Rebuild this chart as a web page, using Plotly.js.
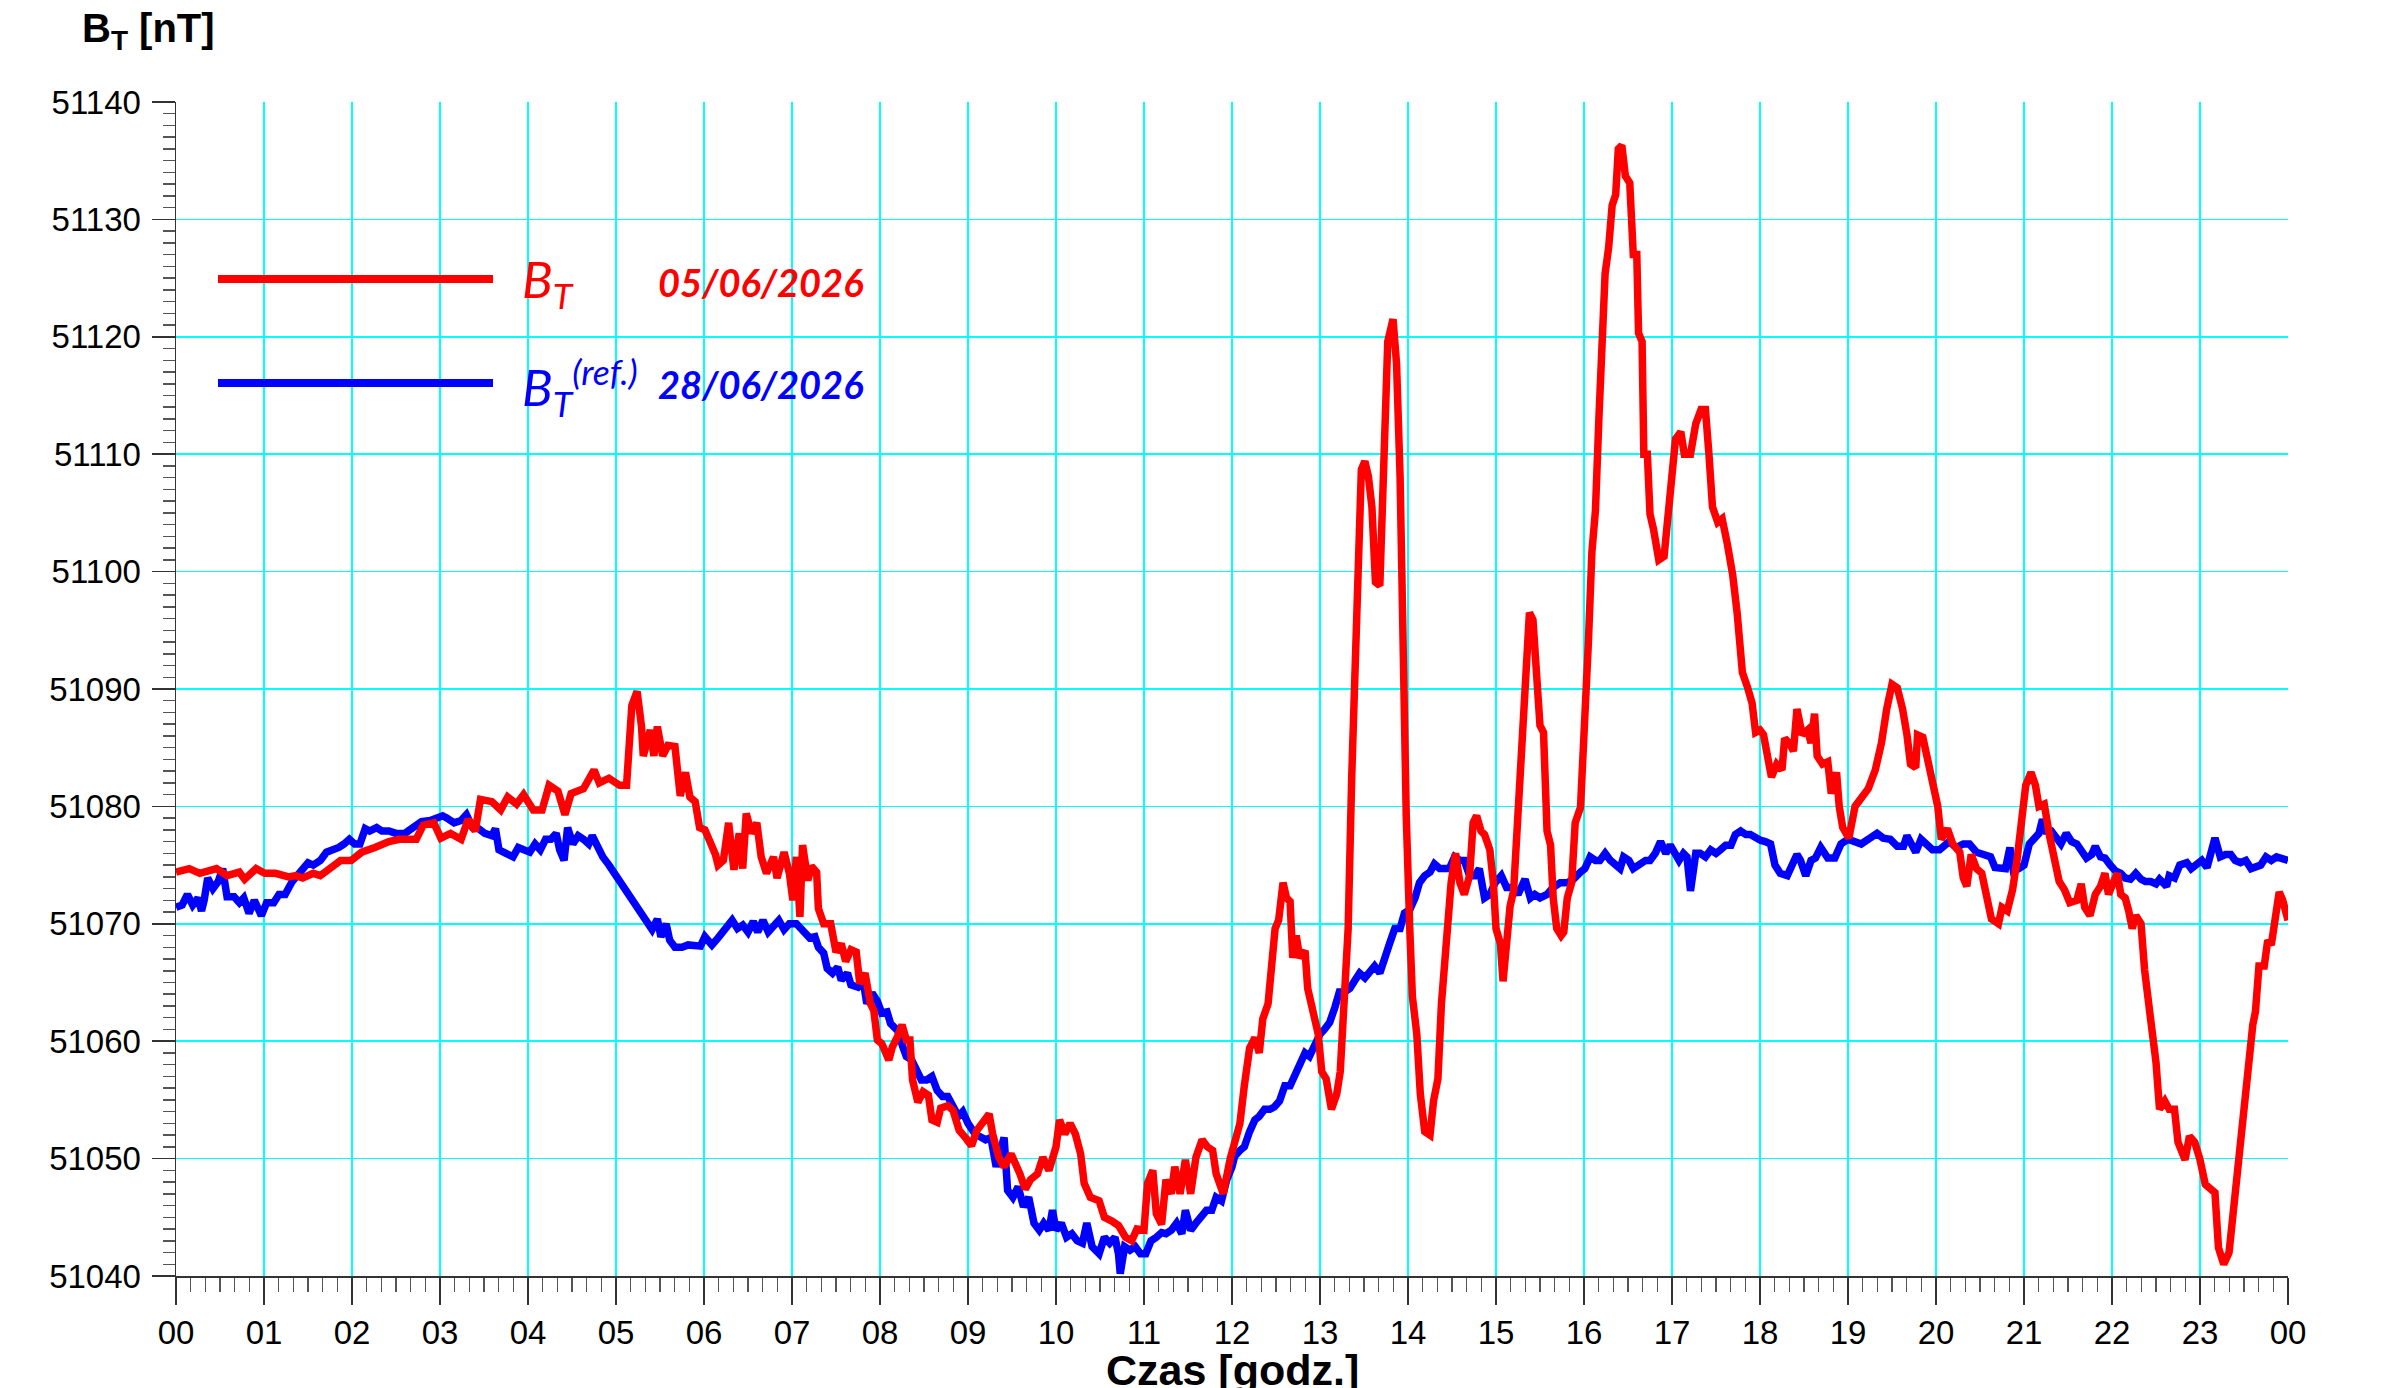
<!DOCTYPE html>
<html>
<head>
<meta charset="utf-8">
<script src="https://cdn.plot.ly/plotly-3.0.1.min.js"></script>
<style>html,body{margin:0;padding:0;background:#fff;}#chart{width:2392px;height:1388px;}</style>
</head>
<body>
<div id="chart"></div>
<script>
// ---- DATA (time in hours, field in nT) ----
const tRed = [0.00,0.15,0.27,0.38,0.46,0.58,0.72,0.78,0.91,1.01,1.13,1.28,1.36,1.44,1.56,1.64,1.75,1.87,1.99,2.11,2.26,2.42,2.54,2.73,2.81,2.93,3.01,3.12,3.24,3.32,3.40,3.46,3.59,3.69,3.77,3.87,3.95,4.06,4.16,4.24,4.34,4.42,4.49,4.63,4.75,4.81,4.92,5.04,5.12,5.18,5.24,5.29,5.31,5.39,5.43,5.47,5.53,5.59,5.67,5.73,5.79,5.84,5.90,5.95,6.01,6.07,6.13,6.16,6.22,6.28,6.34,6.40,6.44,6.48,6.54,6.60,6.65,6.71,6.79,6.83,6.91,6.97,7.01,7.05,7.09,7.12,7.18,7.22,7.28,7.30,7.36,7.44,7.50,7.56,7.61,7.67,7.73,7.77,7.83,7.89,7.93,7.97,8.02,8.10,8.14,8.20,8.25,8.30,8.34,8.37,8.43,8.49,8.55,8.59,8.65,8.69,8.77,8.83,8.90,8.98,9.04,9.10,9.16,9.24,9.28,9.35,9.41,9.49,9.59,9.65,9.71,9.79,9.85,9.92,10.00,10.04,10.10,10.16,10.22,10.28,10.32,10.39,10.49,10.55,10.63,10.71,10.79,10.86,10.92,11.00,11.04,11.10,11.14,11.20,11.25,11.31,11.35,11.41,11.47,11.53,11.59,11.66,11.72,11.78,11.82,11.90,11.98,12.04,12.09,12.14,12.20,12.26,12.31,12.35,12.41,12.45,12.49,12.53,12.58,12.62,12.66,12.69,12.73,12.77,12.83,12.86,12.92,12.98,13.02,13.07,13.13,13.19,13.23,13.28,13.32,13.36,13.39,13.43,13.47,13.51,13.55,13.59,13.63,13.68,13.71,13.73,13.77,13.83,13.87,13.91,13.94,13.98,14.02,14.05,14.10,14.14,14.19,14.25,14.29,14.34,14.38,14.42,14.45,14.49,14.54,14.59,14.64,14.70,14.74,14.78,14.83,14.87,14.93,14.97,15.00,15.05,15.08,15.12,15.16,15.20,15.24,15.27,15.31,15.34,15.38,15.42,15.46,15.50,15.54,15.58,15.62,15.65,15.69,15.74,15.77,15.81,15.86,15.90,15.96,16.01,16.05,16.09,16.13,16.17,16.20,16.24,16.28,16.32,16.36,16.39,16.43,16.47,16.52,16.56,16.60,16.62,16.66,16.68,16.72,16.75,16.79,16.85,16.91,16.95,16.99,17.04,17.10,17.14,17.21,17.27,17.33,17.38,17.42,17.46,17.52,17.57,17.63,17.69,17.74,17.80,17.86,17.91,17.95,18.00,18.04,18.08,18.13,18.19,18.25,18.28,18.35,18.38,18.42,18.48,18.54,18.58,18.62,18.65,18.71,18.77,18.81,18.87,18.90,18.94,19.01,19.08,19.15,19.23,19.31,19.38,19.44,19.50,19.56,19.62,19.67,19.71,19.77,19.79,19.85,19.90,19.96,20.02,20.06,20.13,20.19,20.27,20.31,20.35,20.40,20.46,20.52,20.58,20.63,20.71,20.75,20.81,20.87,20.92,20.98,21.02,21.08,21.13,21.17,21.23,21.29,21.35,21.40,21.46,21.52,21.60,21.65,21.69,21.75,21.81,21.87,21.92,21.96,22.02,22.06,22.10,22.15,22.19,22.23,22.27,22.33,22.37,22.40,22.44,22.50,22.54,22.60,22.65,22.71,22.75,22.83,22.88,22.94,23.00,23.06,23.12,23.17,23.21,23.27,23.33,23.37,23.40,23.44,23.48,23.54,23.60,23.63,23.67,23.73,23.77,23.81,23.85,23.90,23.94,23.98,24.00];
const bRed = [51074.4,51074.7,51074.3,51074.6,51074.7,51074.1,51074.4,51073.8,51074.7,51074.3,51074.3,51074.0,51074.1,51073.9,51074.3,51074.1,51074.8,51075.4,51075.4,51076.1,51076.5,51077.0,51077.2,51077.2,51078.4,51078.6,51077.3,51077.7,51077.2,51078.9,51077.9,51080.6,51080.4,51079.7,51080.8,51080.2,51081.0,51079.7,51079.7,51081.8,51081.3,51079.3,51081.1,51081.5,51083.1,51082.0,51082.4,51081.8,51081.8,51088.6,51089.8,51086.8,51084.3,51086.5,51084.3,51086.8,51084.3,51085.2,51085.1,51080.9,51082.9,51080.8,51080.4,51078.2,51078.0,51077.0,51075.9,51075.0,51075.4,51078.6,51074.6,51077.7,51074.7,51079.4,51077.7,51078.6,51075.7,51074.3,51075.7,51073.9,51076.1,51074.3,51072.0,51075.7,51070.6,51076.7,51073.7,51074.9,51074.4,51071.3,51070.0,51070.0,51067.6,51068.3,51066.8,51067.8,51067.6,51064.9,51065.8,51063.2,51062.6,51060.1,51059.8,51058.4,51059.5,51060.4,51061.4,51060.1,51060.1,51056.7,51054.8,51055.7,51055.4,51053.3,51053.1,51054.3,51054.5,51054.1,51052.4,51051.7,51051.1,51052.4,51053.0,51053.8,51052.1,51050.1,51049.3,51050.4,51048.7,51047.4,51048.2,51048.7,51050.1,51049.0,51051.0,51053.3,51052.1,51053.0,51052.1,51050.4,51047.9,51046.7,51046.4,51045.0,51044.7,51044.3,51043.3,51043.0,51044.0,51043.9,51047.9,51049.0,51045.3,51044.4,51048.2,51047.0,51049.3,51047.0,51049.9,51047.0,51050.1,51051.6,51051.0,51050.7,51048.7,51047.0,51050.0,51051.6,51053.0,51056.2,51059.4,51060.3,51059.0,51061.9,51063.2,51066.4,51069.6,51070.3,51073.5,51072.2,51071.9,51067.1,51069.0,51067.1,51067.7,51064.5,51062.6,51060.6,51057.4,51056.8,51054.2,51055.5,51057.4,51063.2,51069.6,51082.4,51088.8,51099.7,51108.7,51109.4,51108.1,51105.5,51099.1,51098.8,51106.2,51113.2,51119.6,51121.5,51117.7,51108.1,51092.1,51079.2,51069.6,51063.8,51060.6,51055.5,51052.3,51052.0,51054.9,51056.8,51063.2,51067.7,51070.9,51073.5,51076.0,51073.5,51072.5,51074.1,51078.6,51079.2,51077.9,51077.6,51076.3,51073.5,51069.6,51068.3,51065.1,51068.3,51071.5,51072.8,51078.6,51081.2,51088.8,51092.7,51096.5,51095.9,51091.4,51086.9,51086.3,51077.9,51076.7,51072.2,51069.6,51069.0,51069.3,51072.2,51073.5,51078.6,51079.9,51086.9,51094.0,51101.7,51105.2,51113.2,51119.0,51125.4,51127.6,51131.2,51132.1,51136.0,51136.3,51133.7,51133.1,51127.0,51127.0,51120.3,51119.6,51110.0,51110.0,51104.9,51103.6,51101.0,51101.3,51104.2,51106.2,51111.3,51111.9,51110.0,51110.0,51112.6,51113.8,51113.8,51110.0,51105.5,51104.2,51104.5,51102.3,51099.7,51096.5,51091.4,51090.1,51088.8,51086.3,51086.5,51086.1,51084.0,51082.5,51083.6,51083.1,51085.8,51085.2,51084.7,51088.3,51086.1,51086.5,51085.4,51087.9,51084.3,51083.6,51083.8,51081.1,51082.9,51080.0,51078.2,51077.3,51080.0,51080.8,51081.5,51083.1,51085.4,51088.3,51090.4,51090.1,51088.3,51086.1,51083.6,51083.3,51086.1,51085.9,51084.0,51082.2,51080.0,51077.2,51078.1,51076.8,51076.1,51073.9,51073.2,51075.9,51074.7,51074.3,51072.2,51070.4,51070.0,51071.4,51071.1,51072.9,51075.4,51079.0,51081.8,51082.9,51081.8,51080.0,51080.2,51077.5,51075.7,51073.6,51072.9,51071.8,51072.0,51073.4,51071.4,51070.7,51072.5,51073.2,51074.3,51072.5,51073.6,51074.3,51072.5,51072.2,51071.1,51069.6,51070.7,51070.0,51066.1,51063.5,51061.8,51058.2,51054.2,51054.9,51054.2,51054.2,51051.4,51049.9,51051.9,51051.4,51049.9,51047.8,51047.4,51047.1,51042.4,51041.0,51042.0,51044.9,51048.1,51049.6,51052.8,51057.8,51061.4,51062.5,51066.4,51066.4,51068.6,51068.2,51070.0,51072.7,51072.0,51070.4,51070.3];

const tBlue = [0.00,0.07,0.13,0.19,0.25,0.29,0.32,0.36,0.42,0.48,0.53,0.58,0.66,0.72,0.77,0.83,0.89,0.97,1.03,1.11,1.17,1.24,1.32,1.40,1.50,1.56,1.64,1.71,1.79,1.85,1.91,1.97,2.03,2.09,2.15,2.20,2.28,2.34,2.42,2.50,2.60,2.69,2.79,2.89,2.97,3.03,3.08,3.16,3.24,3.30,3.37,3.44,3.51,3.59,3.63,3.67,3.75,3.83,3.89,3.95,4.02,4.08,4.14,4.20,4.26,4.32,4.36,4.41,4.45,4.51,4.57,4.63,4.69,4.73,4.79,4.85,4.92,5.00,5.06,5.12,5.17,5.24,5.29,5.35,5.41,5.47,5.51,5.57,5.61,5.67,5.75,5.82,5.90,5.96,6.01,6.09,6.16,6.24,6.32,6.38,6.44,6.50,6.56,6.61,6.67,6.73,6.79,6.85,6.91,6.97,7.05,7.12,7.20,7.26,7.30,7.36,7.40,7.46,7.52,7.56,7.63,7.67,7.75,7.81,7.85,7.91,7.97,8.02,8.08,8.12,8.20,8.26,8.30,8.36,8.42,8.47,8.53,8.59,8.65,8.71,8.77,8.83,8.89,8.94,9.00,9.08,9.14,9.20,9.26,9.32,9.38,9.41,9.45,9.51,9.57,9.63,9.69,9.75,9.81,9.86,9.92,9.96,10.00,10.06,10.12,10.18,10.24,10.30,10.35,10.41,10.49,10.55,10.61,10.67,10.71,10.73,10.78,10.84,10.90,10.96,11.02,11.08,11.14,11.20,11.25,11.31,11.37,11.43,11.47,11.53,11.59,11.65,11.71,11.77,11.82,11.88,11.94,12.00,12.03,12.09,12.14,12.20,12.26,12.31,12.37,12.43,12.48,12.54,12.60,12.66,12.71,12.77,12.83,12.88,12.94,13.00,13.05,13.11,13.17,13.22,13.28,13.34,13.39,13.45,13.51,13.56,13.62,13.68,13.73,13.79,13.85,13.91,13.96,14.02,14.08,14.13,14.19,14.25,14.30,14.36,14.42,14.47,14.53,14.59,14.64,14.70,14.76,14.81,14.87,14.93,14.99,15.06,15.12,15.20,15.25,15.33,15.39,15.44,15.50,15.58,15.65,15.73,15.81,15.88,15.96,16.01,16.07,16.13,16.18,16.24,16.30,16.36,16.41,16.45,16.51,16.56,16.64,16.70,16.75,16.81,16.87,16.93,16.98,17.04,17.08,17.13,17.17,17.21,17.27,17.32,17.38,17.44,17.50,17.55,17.61,17.67,17.72,17.78,17.84,17.89,17.95,18.01,18.06,18.12,18.17,18.23,18.31,18.37,18.42,18.46,18.52,18.58,18.63,18.69,18.77,18.85,18.92,19.00,19.08,19.15,19.25,19.33,19.40,19.48,19.56,19.63,19.67,19.73,19.77,19.83,19.90,19.96,20.04,20.10,20.15,20.23,20.31,20.38,20.46,20.54,20.62,20.67,20.73,20.79,20.84,20.88,20.94,21.00,21.06,21.12,21.17,21.21,21.25,21.31,21.37,21.42,21.48,21.54,21.60,21.65,21.71,21.77,21.81,21.87,21.92,21.98,22.04,22.10,22.15,22.21,22.27,22.33,22.38,22.44,22.50,22.54,22.62,22.65,22.71,22.77,22.85,22.90,22.96,23.02,23.08,23.12,23.17,23.23,23.29,23.35,23.40,23.46,23.52,23.58,23.63,23.69,23.75,23.81,23.87,23.92,24.00];
const bBlue = [51071.4,51071.6,51072.5,51071.6,51072.2,51071.1,51072.0,51073.9,51073.0,51073.6,51074.7,51072.3,51072.3,51071.8,51072.2,51070.9,51072.0,51070.7,51071.8,51071.8,51072.5,51072.5,51073.6,51074.3,51075.2,51075.0,51075.4,51076.1,51076.3,51076.5,51076.8,51077.2,51076.8,51076.8,51078.1,51077.9,51078.2,51077.9,51077.9,51077.7,51077.7,51078.2,51078.7,51078.8,51079.1,51079.2,51079.0,51078.6,51078.8,51079.3,51078.2,51078.1,51077.7,51077.5,51078.1,51076.3,51076.0,51075.7,51076.5,51076.3,51076.1,51076.8,51076.3,51077.2,51077.2,51077.7,51076.3,51075.4,51078.2,51076.8,51077.5,51077.2,51076.8,51077.5,51076.5,51075.7,51075.0,51074.1,51073.2,51072.7,51072.2,51071.4,51070.7,51070.0,51069.5,51070.4,51068.9,51070.0,51068.6,51068.0,51068.0,51068.2,51068.2,51068.1,51068.9,51068.2,51068.8,51069.5,51070.3,51069.6,51069.9,51069.3,51070.2,51069.3,51070.3,51069.3,51069.7,51070.3,51069.5,51070.0,51070.0,51069.5,51068.8,51068.9,51068.0,51067.5,51066.2,51065.8,51066.3,51065.2,51065.8,51064.8,51064.6,51065.1,51063.2,51064.1,51063.4,51062.4,51062.5,51061.5,51060.9,51059.5,51058.7,51058.4,51057.5,51056.7,51056.7,51057.0,51055.8,51055.3,51055.3,51054.5,51053.6,51054.0,51053.0,51052.1,51051.8,51051.6,51051.8,51049.3,51051.0,51051.8,51047.3,51046.7,51047.6,51045.9,51046.7,51044.5,51043.9,51044.5,51043.9,51045.6,51043.9,51044.5,51043.3,51043.6,51043.0,51042.8,51044.5,51042.5,51041.9,51043.3,51042.8,51043.3,51041.9,51040.2,51042.5,51042.2,51042.5,51041.9,51041.9,51043.0,51043.3,51043.7,51043.6,51043.9,51044.5,51043.6,51045.6,51043.9,51044.5,51045.0,51045.6,51045.6,51046.7,51046.4,51048.2,51049.3,51050.2,51050.7,51051.0,51052.3,51053.3,51053.6,51054.2,51054.2,51054.4,51054.9,51056.2,51056.2,51057.1,51058.1,51059.0,51058.7,51059.7,51060.6,51061.0,51061.6,51062.9,51064.2,51064.2,51064.5,51065.1,51065.8,51065.4,51065.8,51066.4,51065.8,51067.1,51068.3,51069.6,51069.6,51070.9,51071.2,51072.2,51073.5,51074.1,51074.4,51075.1,51074.7,51074.7,51074.7,51075.7,51075.4,51075.4,51074.1,51074.1,51074.7,51072.2,51072.5,51073.5,51074.1,51073.1,51073.1,51072.5,51073.8,51072.2,51072.5,51072.2,51072.5,51073.1,51073.5,51073.5,51073.8,51074.4,51074.7,51075.7,51075.4,51075.4,51076.0,51075.4,51075.1,51074.7,51075.7,51075.4,51074.7,51075.1,51075.4,51075.4,51076.0,51077.0,51076.0,51076.7,51076.0,51075.4,51076.0,51075.7,51072.8,51076.0,51076.0,51075.7,51076.3,51076.0,51076.3,51076.7,51076.7,51077.6,51077.9,51077.6,51077.6,51077.3,51077.1,51077.0,51076.8,51075.0,51074.3,51074.1,51075.0,51075.9,51075.4,51074.1,51075.4,51075.6,51076.5,51075.6,51075.6,51076.8,51077.2,51077.0,51076.8,51077.3,51077.7,51077.3,51077.2,51076.6,51076.6,51077.5,51076.5,51076.1,51077.2,51076.8,51076.3,51076.3,51076.6,51077.0,51076.5,51076.8,51076.8,51076.1,51075.9,51075.7,51074.8,51074.7,51074.7,51076.5,51074.5,51074.7,51075.0,51076.8,51077.3,51077.7,51078.9,51077.9,51077.9,51077.3,51076.8,51077.7,51077.0,51076.8,51076.3,51075.6,51075.9,51076.6,51075.7,51075.6,51075.0,51074.5,51074.3,51073.9,51073.8,51074.3,51073.8,51073.6,51073.6,51073.4,51073.8,51073.2,51074.1,51073.9,51075.0,51075.2,51074.7,51075.0,51075.4,51074.8,51075.7,51077.3,51075.7,51075.9,51075.9,51075.4,51075.2,51075.4,51074.7,51074.8,51075.0,51075.7,51075.4,51075.7,51075.6,51075.4];

const hourLabels = ['00','01','02','03','04','05','06','07','08','09','10','11','12','13','14','15','16','17','18','19','20','21','22','23','00'];
const hourTicks = hourLabels.map((_, i) => i);

const legendRed = {name: 'B<sub>T</sub>', date: '05/06/2026'};
const legendBlue = {name: 'B<sub>T</sub><sup>(ref.)</sup>', date: '28/06/2026'};

// ---- LAYOUT HELPERS (pixel -> paper) ----
const W = 2392, H = 1388, ML = 176, MR = 104, MT = 102, MB = 112;
const PW = W - ML - MR, PH = H - MT - MB;
const px = x => (x - ML) / PW;
const py = y => (H - MB - y) / PH;

const RED = '#ff0000', BLUE = '#0000ff', GRID = '#00ffff', AX = '#333333';
const tickFont = {family: 'Liberation Sans, Arial, sans-serif', size: 33, color: '#000'};

const traces = [
  {x: tBlue, y: bBlue, type: 'scatter', mode: 'lines', line: {color: BLUE, width: 7.5}, hoverinfo: 'skip'},
  {x: tRed, y: bRed, type: 'scatter', mode: 'lines', line: {color: RED, width: 7.5}, hoverinfo: 'skip'}
];

const layout = {
  width: W, height: H,
  margin: {l: ML, r: MR, t: MT, b: MB},
  paper_bgcolor: '#fff', plot_bgcolor: '#fff',
  showlegend: false,
  xaxis: {
    range: [0, 24], tickmode: 'array', tickvals: hourTicks, ticktext: hourLabels,
    showgrid: true, gridcolor: GRID, gridwidth: 1.8, zeroline: false,
    showline: true, linecolor: AX, linewidth: 1.5,
    ticks: 'outside', ticklen: 27, tickwidth: 1.5, tickcolor: AX,
    minor: {tickmode: 'linear', tick0: 0, dtick: 1/6, ticks: 'outside', ticklen: 14, tickwidth: 1.5, tickcolor: '#555', showgrid: false},
    tickfont: tickFont, ticklabelstandoff: 0
  },
  yaxis: {
    range: [51040, 51140], tick0: 51040, dtick: 10, tickformat: 'd',
    showgrid: true, gridcolor: GRID, gridwidth: 1.8, zeroline: false,
    showline: true, linecolor: AX, linewidth: 1.5,
    ticks: 'outside', ticklen: 23, tickwidth: 1.5, tickcolor: AX,
    minor: {tick0: 51040, dtick: 1, ticks: 'outside', ticklen: 12, tickwidth: 1.5, tickcolor: '#555', showgrid: false},
    tickfont: tickFont, ticklabelstandoff: 4
  },
  shapes: [
    {type: 'line', xref: 'paper', yref: 'paper', x0: px(218), x1: px(493), y0: py(279), y1: py(279), line: {color: RED, width: 8}},
    {type: 'line', xref: 'paper', yref: 'paper', x0: px(218), x1: px(493), y0: py(383), y1: py(383), line: {color: BLUE, width: 8}}
  ],
  annotations: [
    {xref: 'paper', yref: 'paper', x: px(80), y: py(31), xanchor: 'left', yanchor: 'middle', showarrow: false,
     text: '<b>B<sub>T</sub> [nT]</b>', font: {family: 'Liberation Sans, Arial, sans-serif', size: 40, color: '#000'}},
    {xref: 'paper', yref: 'paper', x: px(1232), y: py(1344), xanchor: 'center', yanchor: 'top', showarrow: false,
     text: '<b>Czas [godz.]</b>', font: {family: 'Liberation Sans, Arial, sans-serif', size: 43, color: '#000'}},
    {xref: 'paper', yref: 'paper', x: px(520), y: py(282), xanchor: 'left', yanchor: 'middle', showarrow: false,
     text: '<i>' + legendRed.name + '</i>', font: {family: 'Lato, sans-serif', size: 51, color: RED}},
    {xref: 'paper', yref: 'paper', x: px(656), y: py(282), xanchor: 'left', yanchor: 'middle', showarrow: false,
     text: '<b><i>' + legendRed.date + '</i></b>', font: {family: 'Lato, sans-serif', size: 38, color: RED}},
    {xref: 'paper', yref: 'paper', x: px(520), y: py(388), xanchor: 'left', yanchor: 'middle', showarrow: false,
     text: '<i>' + legendBlue.name + '</i>', font: {family: 'Lato, sans-serif', size: 51, color: BLUE}},
    {xref: 'paper', yref: 'paper', x: px(656), y: py(384), xanchor: 'left', yanchor: 'middle', showarrow: false,
     text: '<b><i>' + legendBlue.date + '</i></b>', font: {family: 'Lato, sans-serif', size: 38, color: BLUE}}
  ]
};

Plotly.newPlot('chart', traces, layout, {staticPlot: true, displayModeBar: false});
</script>
</body>
</html>
